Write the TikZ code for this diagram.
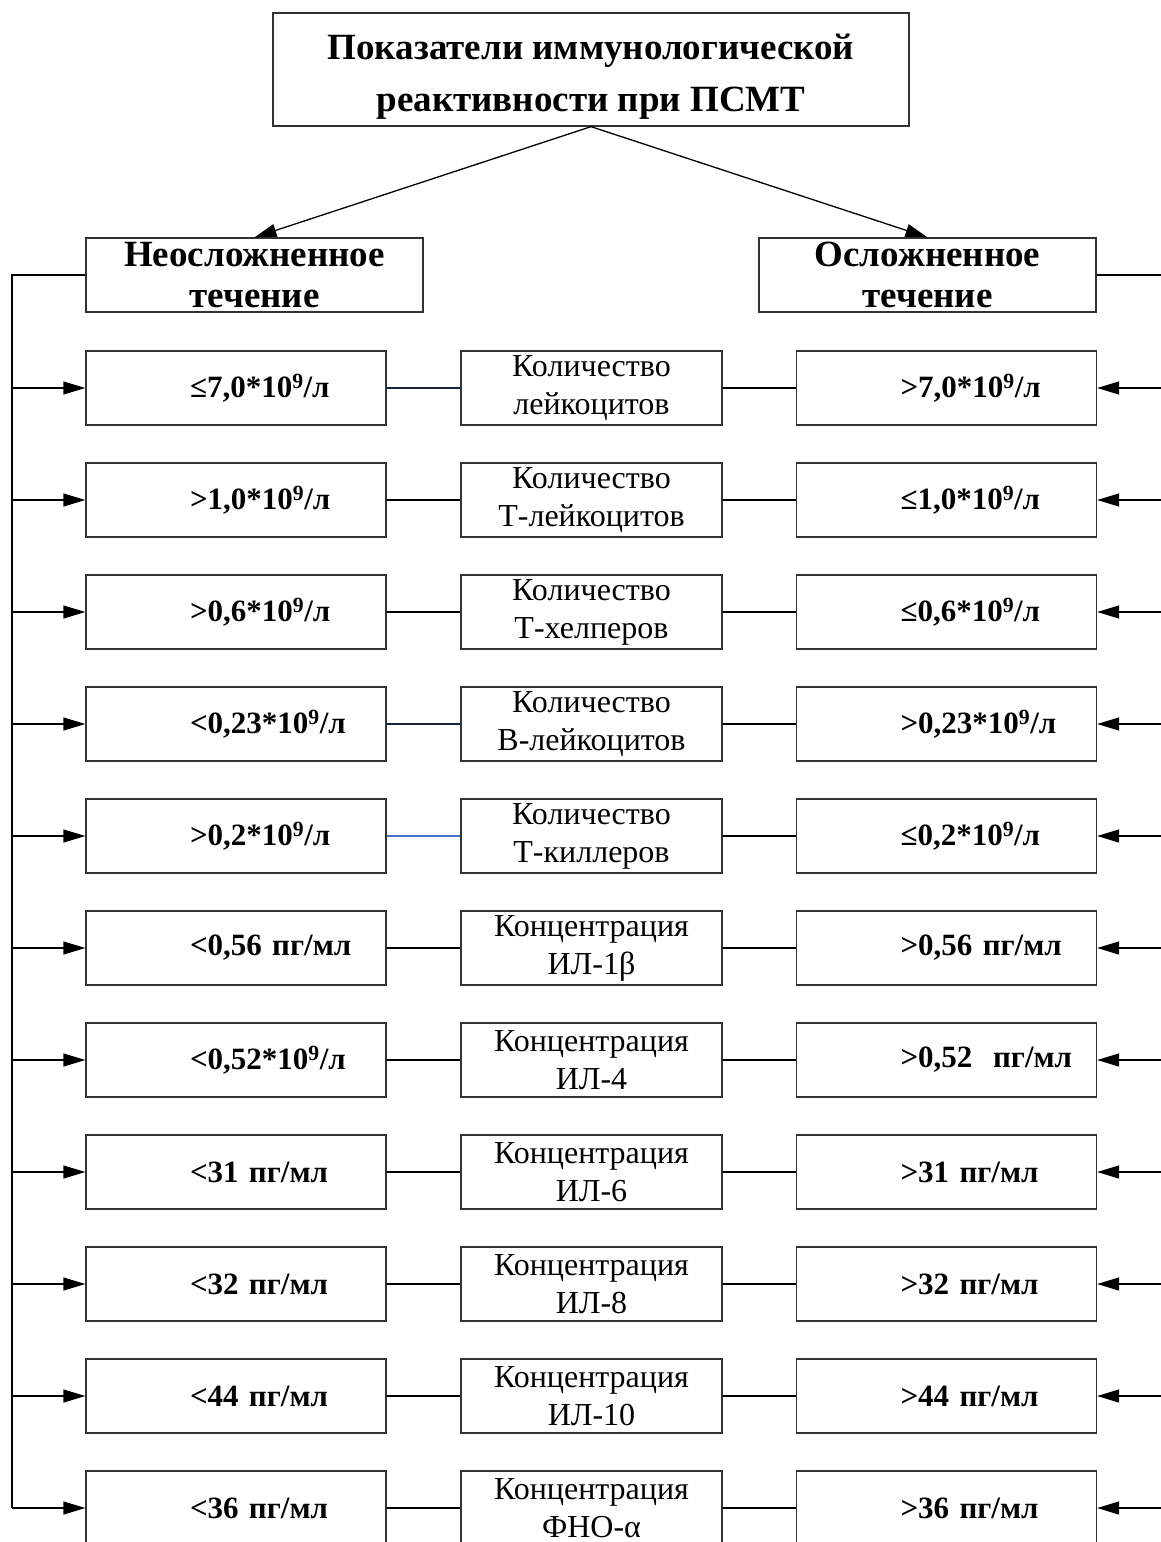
\documentclass[tikz,border=0pt]{standalone}
\usepackage{fontspec}
\setmainfont{Liberation Serif}
\usetikzlibrary{arrows.meta}
\definecolor{boxline}{RGB}{50,50,50}
\definecolor{navyline}{RGB}{25,35,60}
\definecolor{blueline}{RGB}{68,114,196}

\newcommand\tnine{*10\textsuperscript{9}/л}
\newcommand\pgml{пг/мл}

% one row: value box, parameter box, value box and their connectors
% #1 row number, #2 left value, #3/#4 parameter lines, #5 right value, #6 colour of the left link
\newcommand\immrow[6]{%
  \pgfmathsetmacro\ry{388+112*(#1-1)}%
  \node[valbox] (vl#1) at (236,\ry) {\hspace*{104pt}#2};
  \node[midbox] (m#1) at (591.5,\ry) {#3\\#4};
  \node[valbox] (vr#1) at (946.5,\ry) {\hspace*{104pt}#5};
  \draw[link,draw=#6] (vl#1.east) -- (m#1.west);
  \draw[link] (m#1.east) -- (vr#1.west);
  \draw[feed] (trunkL |- vl#1.west) -- (vl#1.west);
  \draw[feed] (trunkR |- vr#1.east) -- (vr#1.east);
}

\begin{document}
\begin{tikzpicture}[x=1pt,y=-1pt,
  box/.style={draw=boxline, line width=1.3pt, inner sep=0pt},
  titlebox/.style={box, minimum width=636pt, minimum height=113pt},
  titletext/.style={align=center, yshift=-7pt, font=\fontsize{37}{52}\selectfont\bfseries},
  headbox/.style={box, minimum width=337pt, minimum height=74pt, align=center,
    font=\fontsize{37}{41}\selectfont\bfseries},
  valbox/.style={box, minimum width=300pt, text width=300pt, minimum height=74pt, align=left,
    font=\fontsize{31}{36}\selectfont\bfseries},
  midbox/.style={box, minimum width=261pt, minimum height=74pt, align=center,
    font=\fontsize{32}{38}\selectfont},
  link/.style={line width=1.3pt, draw=black},
  feed/.style={link, -{Triangle[length=22pt,width=13pt]}}
]
\clip (0,0) rectangle (1161,1542);
\fill[white] (0,0) rectangle (1161,1542);

\node[titlebox, label={[titletext]center:Показатели иммунологической\\реактивности при ПСМТ}]
  (title) at (591,69.5) {};
\node[headbox] (hl) at (254.5,275) {Неосложненное\\течение};
\node[headbox] (hr) at (927.5,275) {Осложненное\\течение};

\draw[feed] (title.south) -- (hl.north);
\draw[feed] (title.south) -- (hr.north);

\coordinate (trunkL) at (12,275);
\coordinate (trunkR) at (1185,275);

\immrow{1}{≤7,0\tnine}{Количество}{лейкоцитов}{>7,0\tnine}{navyline}
\immrow{2}{>1,0\tnine}{Количество}{Т-лейкоцитов}{≤1,0\tnine}{black}
\immrow{3}{>0,6\tnine}{Количество}{Т-хелперов}{≤0,6\tnine}{black}
\immrow{4}{<0,23\tnine}{Количество}{В-лейкоцитов}{>0,23\tnine}{navyline}
\immrow{5}{>0,2\tnine}{Количество}{Т-киллеров}{≤0,2\tnine}{blueline}
\immrow{6}{<0,56 \pgml}{Концентрация}{ИЛ-1β}{>0,56 \pgml}{black}
\immrow{7}{<0,52\tnine}{Концентрация}{ИЛ-4}{>0,52\ \ \pgml}{black}
\immrow{8}{<31 \pgml}{Концентрация}{ИЛ-6}{>31 \pgml}{black}
\immrow{9}{<32 \pgml}{Концентрация}{ИЛ-8}{>32 \pgml}{black}
\immrow{10}{<44 \pgml}{Концентрация}{ИЛ-10}{>44 \pgml}{black}
\immrow{11}{<36 \pgml}{Концентрация}{ФНО-α}{>36 \pgml}{black}

\draw[link] (hl.west) -- (trunkL) -- (trunkL |- vl11.west);
\draw[link] (hr.east) -- (trunkR) -- (trunkR |- vr11.east);
\end{tikzpicture}
\end{document}
